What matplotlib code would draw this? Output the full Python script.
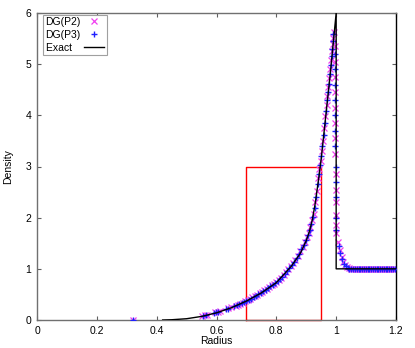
import matplotlib
matplotlib.use('Agg')
import matplotlib.pyplot as plt

plt.rcParams['font.family'] = ['Liberation Sans', 'DejaVu Sans']
plt.rcParams['font.size'] = 7.5

# exact solution
r_exact = [0.42, 0.45, 0.50, 0.55, 0.60, 0.65, 0.70, 0.75, 0.80, 0.85, 0.88,
           0.90, 0.91, 0.92, 0.93, 0.94, 0.95, 0.96, 0.97, 0.98, 0.99, 1.0,
           1.0, 1.2]
rho_exact = [0.0, 0.005, 0.025, 0.07, 0.14, 0.24, 0.37, 0.53, 0.73, 1.05, 1.3,
             1.55, 1.72, 1.95, 2.28, 2.7, 3.15, 3.7, 4.25, 4.8, 5.4, 6.0,
             1.0, 1.0]

# DG(P2)
r_p2 = [0.320, 0.552, 0.560, 0.568, 0.596, 0.604, 0.612, 0.640, 0.648, 0.664,
        0.672, 0.680, 0.688, 0.696, 0.704, 0.712, 0.720, 0.728, 0.736, 0.744,
        0.752, 0.760, 0.768, 0.776, 0.784, 0.792, 0.800, 0.808, 0.816, 0.824,
        0.832, 0.840, 0.848, 0.856, 0.864, 0.872, 0.880, 0.888, 0.896, 0.902,
        0.908, 0.914, 0.920, 0.925, 0.930, 0.935, 0.940, 0.944, 0.948, 0.952,
        0.956, 0.960, 0.964, 0.968, 0.971, 0.974, 0.977, 0.980, 0.983, 0.986,
        0.988, 0.990, 0.992,
        0.995, 0.995, 0.996, 0.996, 0.996, 0.997, 0.997, 0.997, 0.998, 0.998,
        0.998, 0.999, 0.999, 1.000, 1.006, 1.012, 1.018, 1.024, 1.030, 1.036,
        1.042,
        1.048, 1.054, 1.060, 1.066, 1.072, 1.078, 1.084, 1.090, 1.096, 1.102,
        1.108, 1.114, 1.120, 1.126, 1.132, 1.138, 1.144, 1.150, 1.156, 1.162,
        1.168, 1.174, 1.180, 1.186, 1.192, 1.198]
rho_p2 = [0.0, 0.08, 0.09, 0.10, 0.15, 0.16, 0.17, 0.23, 0.25, 0.28,
          0.30, 0.32, 0.34, 0.37, 0.39, 0.41, 0.44, 0.46, 0.49, 0.52,
          0.55, 0.58, 0.61, 0.64, 0.68, 0.71, 0.75, 0.79, 0.83, 0.88,
          0.93, 0.99, 1.05, 1.11, 1.18, 1.26, 1.34, 1.43, 1.53, 1.62,
          1.71, 1.82, 1.95, 2.08, 2.30, 2.52, 2.78, 2.95, 3.10, 3.30,
          3.50, 3.75, 3.98, 4.20, 4.38, 4.55, 4.72, 4.90, 5.08, 5.25,
          5.40, 5.52, 5.62,
          5.35, 5.05, 4.75, 4.45, 4.15, 3.85, 3.55, 3.25, 2.85, 2.55,
          2.30, 2.05, 1.85, 1.70, 1.52, 1.36, 1.24, 1.14, 1.07, 1.03,
          1.01,
          1.0, 1.0, 1.0, 1.0, 1.0, 1.0, 1.0, 1.0, 1.0, 1.0,
          1.0, 1.0, 1.0, 1.0, 1.0, 1.0, 1.0, 1.0, 1.0, 1.0,
          1.0, 1.0, 1.0, 1.0, 1.0, 1.0]

# DG(P3)
r_p3 = [0.322, 0.556, 0.564, 0.590, 0.598, 0.606, 0.632, 0.640, 0.660, 0.668,
        0.676, 0.684, 0.692, 0.700, 0.708, 0.716, 0.724, 0.732, 0.740, 0.748,
        0.756, 0.764, 0.772, 0.780, 0.788, 0.796, 0.804, 0.812, 0.820, 0.828,
        0.836, 0.844, 0.852, 0.860, 0.868, 0.876, 0.884, 0.892, 0.899, 0.905,
        0.911, 0.917, 0.923, 0.928, 0.933, 0.938, 0.942, 0.946, 0.950, 0.954,
        0.958, 0.962, 0.966, 0.970, 0.973, 0.976, 0.979, 0.982, 0.985, 0.987,
        0.989, 0.991,
        0.995, 0.996, 0.996, 0.996, 0.997, 0.997, 0.997, 0.998, 0.998, 0.999,
        0.999, 1.001, 1.008, 1.014, 1.020, 1.026, 1.032, 1.038, 1.044,
        1.051, 1.057, 1.063, 1.069, 1.075, 1.081, 1.087, 1.093, 1.099, 1.105,
        1.111, 1.117, 1.123, 1.129, 1.135, 1.141, 1.147, 1.153, 1.159, 1.165,
        1.171, 1.177, 1.183, 1.189, 1.195]
rho_p3 = [0.0, 0.08, 0.09, 0.14, 0.15, 0.16, 0.21, 0.22, 0.27, 0.29,
          0.31, 0.33, 0.35, 0.37, 0.40, 0.42, 0.45, 0.47, 0.50, 0.53,
          0.56, 0.59, 0.62, 0.66, 0.69, 0.73, 0.77, 0.81, 0.85, 0.90,
          0.95, 1.01, 1.07, 1.14, 1.21, 1.29, 1.38, 1.47, 1.57, 1.66,
          1.76, 1.88, 2.02, 2.18, 2.40, 2.65, 2.86, 3.03, 3.20, 3.40,
          3.62, 3.85, 4.08, 4.30, 4.46, 4.62, 4.80, 4.98, 5.15, 5.30,
          5.45, 5.58,
          5.20, 4.90, 4.60, 4.30, 4.00, 3.70, 3.40, 3.00, 2.70, 2.40,
          2.00, 1.75, 1.45, 1.30, 1.19, 1.10, 1.05, 1.02, 1.005,
          1.0, 1.0, 1.0, 1.0, 1.0, 1.0, 1.0, 1.0, 1.0, 1.0,
          1.0, 1.0, 1.0, 1.0, 1.0, 1.0, 1.0, 1.0, 1.0, 1.0,
          1.0, 1.0, 1.0, 1.0, 1.0]

# red zoom box
box_r = [0.70, 0.95]
box_rho = 3.0

fig = plt.figure(figsize=(4.15, 3.48), dpi=100)
ax = fig.add_axes([37 / 415, 28 / 348, 359 / 415, 307 / 348])

ax.plot([box_r[0], box_r[0], box_r[1], box_r[1], box_r[0]],
        [0, box_rho, box_rho, 0, 0], color='red', lw=1.0, clip_on=False,
        zorder=1)
ax.plot(r_p2, rho_p2, ls='none', marker='x', color='#f040f0', ms=4,
        mew=0.9, label='DG(P2)', zorder=2)
ax.plot(r_p3, rho_p3, ls='none', marker='+', color='#2020ff', ms=4.5,
        mew=1.0, label='DG(P3)', zorder=3)
ax.plot(r_exact, rho_exact, color='black', lw=1.0, label='Exact   ', zorder=4)

ax.set_xlim(0, 1.2)
ax.set_ylim(0, 6)
ax.set_xticks([0, 0.2, 0.4, 0.6, 0.8, 1.0, 1.2])
ax.set_xticklabels(['0', '0.2', '0.4', '0.6', '0.8', '1', '1.2'])
ax.set_yticks([0, 1, 2, 3, 4, 5, 6])
ax.tick_params(direction='in', length=3, width=0.8, color='#606060',
               top=True, right=True, pad=4)
for name, sp in ax.spines.items():
    sp.set_color('#707070')
    sp.set_linewidth(1.0)
ax.spines['right'].set_color('black')

ax.set_xlabel('Radius', labelpad=0)
ax.set_ylabel('Density', labelpad=9)

leg = ax.legend(loc='upper left', bbox_to_anchor=(6 / 359, 1 - 2 / 307),
                markerfirst=False, fancybox=False,
                edgecolor='#a0a0a0', framealpha=1, handlelength=2.0,
                handletextpad=0.3, borderpad=0.2, labelspacing=0.28,
                borderaxespad=0)
leg.get_frame().set_linewidth(0.8)

fig.savefig('out.png', dpi=100)
